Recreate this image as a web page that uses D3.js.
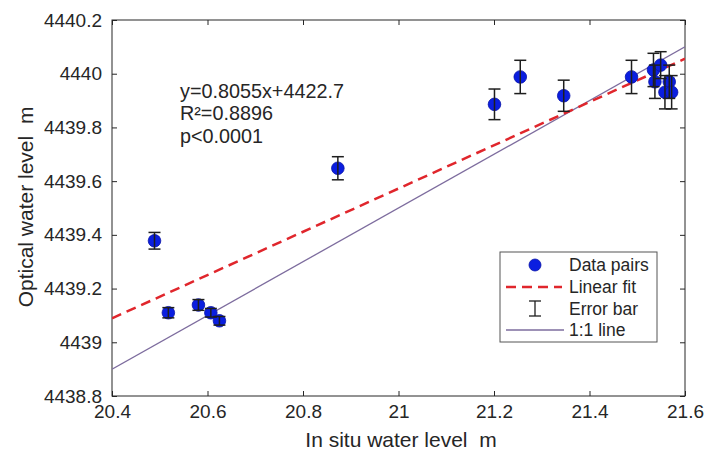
<!DOCTYPE html>
<html>
<head>
<meta charset="utf-8">
<script src="https://cdn.jsdelivr.net/npm/d3@7"></script>
<style>
  body { margin: 0; background: #fff; }
  text { font-family: "Liberation Sans", Arial, sans-serif; fill: #262626; }
  .pre { white-space: pre; }
</style>
</head>
<body>
<svg id="chart" width="707" height="453"></svg>
<script>
// in situ (x) vs optical (y) water level
const inSitu  = [20.489, 20.518, 20.581, 20.607, 20.625, 20.873, 21.201, 21.255,
                 21.346, 21.488, 21.534, 21.549, 21.537, 21.567, 21.558, 21.572];
const optical = [4439.378, 4439.110, 4439.139, 4439.110, 4439.080, 4439.648, 4439.886, 4439.988,
                 4439.918, 4439.988, 4440.014, 4440.032, 4439.970, 4439.970, 4439.931, 4439.931];
const errHalf = [0.031, 0.019, 0.020, 0.016, 0.016, 0.043, 0.057, 0.062,
                 0.058, 0.062, 0.062, 0.050, 0.062, 0.062, 0.062, 0.062];

const xTicks = [20.4, 20.6, 20.8, 21, 21.2, 21.4, 21.6];
const yTicks = [4438.8, 4439, 4439.2, 4439.4, 4439.6, 4439.8, 4440, 4440.2];

const fitSlope = 0.8055;
const fitIntercept = 4422.657;   // where the drawn dashed line actually sits
const oneToOneOffset = 4418.5;   // y = x + offset
const statsText = ["y=0.8055x+4422.7", "R\u00b2=0.8896", "p<0.0001"];
const legendLabels = ["Data pairs", "Linear fit", "Error bar", "1:1 line"];

const margin = {top: 20, right: 22, bottom: 57, left: 112};
const width = 707, height = 453;

const svg = d3.select('#chart');

const x = d3.scaleLinear().domain([20.4, 21.6]).range([margin.left, width - margin.right]);
const y = d3.scaleLinear().domain([4438.8, 4440.2]).range([height - margin.bottom, margin.top]);

const axisColor = "#262626";
const tickLen = 5;

// clip so lines stay inside the box
svg.append('clipPath').attr('id', 'plotclip')
    .append('rect')
    .attr('x', x(20.4)).attr('y', y(4440.2))
    .attr('width', x(21.6) - x(20.4)).attr('height', y(4438.8) - y(4440.2));

// axes (ticks inward, mirrored on top/right)
function styleAxis(g) {
    g.select('.domain').remove();
    g.selectAll('line').attr('stroke', axisColor);
    g.selectAll('text').style('font-size', '19px').attr('fill', axisColor);
}

svg.append('g')
    .attr('transform', `translate(0,${y(4438.8)})`)
    .call(d3.axisBottom(x).tickValues(xTicks).tickSize(-tickLen).tickPadding(10).tickFormat(d3.format('~g')))
    .call(styleAxis)
    .selectAll('text').attr('dy', '0.71em').attr('y', 9);

svg.append('g')
    .attr('transform', `translate(0,${y(4440.2)})`)
    .call(d3.axisTop(x).tickValues(xTicks).tickSize(-tickLen).tickFormat(''))
    .call(styleAxis);

svg.append('g')
    .attr('transform', `translate(${x(20.4)},0)`)
    .call(d3.axisLeft(y).tickValues(yTicks).tickSize(-tickLen).tickPadding(10).tickFormat(d3.format('~g')))
    .call(styleAxis);

svg.append('g')
    .attr('transform', `translate(${x(21.6)},0)`)
    .call(d3.axisRight(y).tickValues(yTicks).tickSize(-tickLen).tickFormat(''))
    .call(styleAxis);

svg.append('rect')
    .attr('x', x(20.4)).attr('y', y(4440.2))
    .attr('width', x(21.6) - x(20.4)).attr('height', y(4438.8) - y(4440.2))
    .attr('fill', 'none').attr('stroke', axisColor).attr('stroke-width', 1);

// axis titles
svg.append('text')
    .attr('class', 'pre')
    .attr('x', 401).attr('y', 447)
    .attr('text-anchor', 'middle')
    .style('font-size', '21px')
    .text('In situ water level  m');

svg.append('text')
    .attr('class', 'pre')
    .attr('transform', 'translate(33,207) rotate(-90)')
    .attr('text-anchor', 'middle')
    .style('font-size', '21px')
    .text('Optical water level  m');

const plot = svg.append('g').attr('clip-path', 'url(#plotclip)');

// 1:1 line
plot.append('line')
    .attr('x1', x(20.4)).attr('y1', y(20.4 + oneToOneOffset))
    .attr('x2', x(21.6)).attr('y2', y(21.6 + oneToOneOffset))
    .attr('stroke', '#7d6c9e').attr('stroke-width', 1.3);

// linear fit
plot.append('line')
    .attr('x1', x(20.4)).attr('y1', y(fitSlope * 20.4 + fitIntercept))
    .attr('x2', x(21.6)).attr('y2', y(fitSlope * 21.6 + fitIntercept))
    .attr('stroke', '#e0262c').attr('stroke-width', 2.5)
    .attr('stroke-dasharray', '10,6');

// markers first, error bars on top (as in the figure)
const pts = inSitu.map((v, i) => ({x: v, y: optical[i], e: errHalf[i]}));

plot.selectAll('circle.pt')
    .data(pts)
    .enter().append('circle')
    .attr('class', 'pt')
    .attr('cx', d => x(d.x))
    .attr('cy', d => y(d.y))
    .attr('r', 6.3)
    .attr('fill', '#0a1ee0')
    .attr('stroke', '#0a14a8').attr('stroke-width', 0.8);

const capW = 6;
const eb = plot.selectAll('g.eb')
    .data(pts)
    .enter().append('g')
    .attr('class', 'eb')
    .attr('stroke', '#1e1e1e').attr('stroke-width', 1.5);

eb.append('line')
    .attr('x1', d => x(d.x)).attr('x2', d => x(d.x))
    .attr('y1', d => y(d.y + d.e)).attr('y2', d => y(d.y - d.e));
eb.append('line')
    .attr('x1', d => x(d.x) - capW).attr('x2', d => x(d.x) + capW)
    .attr('y1', d => y(d.y + d.e)).attr('y2', d => y(d.y + d.e));
eb.append('line')
    .attr('x1', d => x(d.x) - capW).attr('x2', d => x(d.x) + capW)
    .attr('y1', d => y(d.y - d.e)).attr('y2', d => y(d.y - d.e));

// regression stats
svg.append('g').selectAll('text')
    .data(statsText)
    .enter().append('text')
    .attr('x', 180)
    .attr('y', (d, i) => 98 + i * 22.3)
    .style('font-size', '19.8px')
    .attr('fill', '#1a1a1a')
    .text(d => d);

// legend
const lg = svg.append('g');
lg.append('rect')
    .attr('x', 500).attr('y', 252).attr('width', 157).attr('height', 90)
    .attr('fill', '#fff').attr('stroke', '#555').attr('stroke-width', 1);

const rowY = [265, 287, 309, 330];
lg.selectAll('text')
    .data(legendLabels)
    .enter().append('text')
    .attr('x', 569)
    .attr('y', (d, i) => rowY[i])
    .attr('dy', '0.35em')
    .style('font-size', '17.5px')
    .attr('fill', '#1a1a1a')
    .text(d => d);

lg.append('circle')
    .attr('cx', 535).attr('cy', rowY[0]).attr('r', 6)
    .attr('fill', '#0a1ee0').attr('stroke', '#0a14a8').attr('stroke-width', 0.8);

lg.append('line')
    .attr('x1', 506).attr('x2', 562).attr('y1', rowY[1]).attr('y2', rowY[1])
    .attr('stroke', '#e0262c').attr('stroke-width', 2.5).attr('stroke-dasharray', '10,6');

const ebl = lg.append('g').attr('stroke', '#1e1e1e').attr('stroke-width', 1.3);
ebl.append('line').attr('x1', 535).attr('x2', 535).attr('y1', rowY[2] - 8).attr('y2', rowY[2] + 7);
ebl.append('line').attr('x1', 529).attr('x2', 541).attr('y1', rowY[2] - 8).attr('y2', rowY[2] - 8);
ebl.append('line').attr('x1', 529).attr('x2', 541).attr('y1', rowY[2] + 7).attr('y2', rowY[2] + 7);

lg.append('line')
    .attr('x1', 506).attr('x2', 564).attr('y1', rowY[3]).attr('y2', rowY[3])
    .attr('stroke', '#7d6c9e').attr('stroke-width', 1.3);
</script>
</body>
</html>
